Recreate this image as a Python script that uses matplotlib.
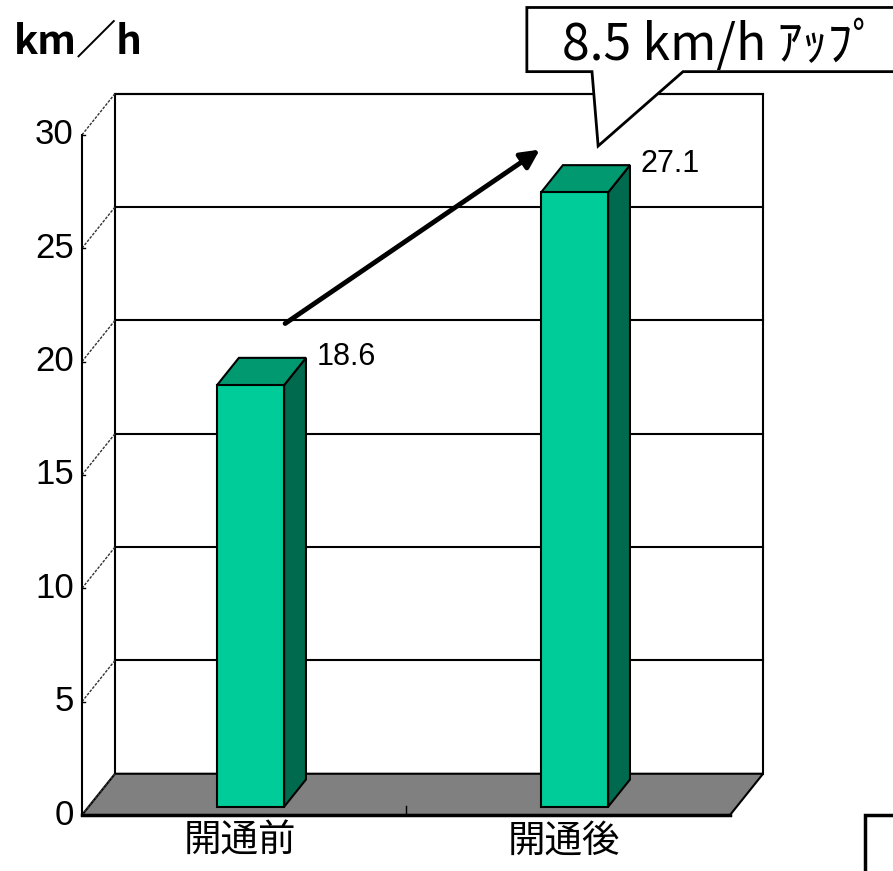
import numpy as np
import matplotlib.pyplot as plt
from matplotlib.patches import Polygon
from matplotlib import font_manager

categories = ['開通前', '開通後']
speeds = [18.6, 27.1]
yticks = [0, 5, 10, 15, 20, 25, 30]
unit_label = 'km／h'

cjk = 'Noto Sans CJK JP'
names = {f.name for f in font_manager.fontManager.ttflist}
narrow = 'Liberation Sans Narrow' if 'Liberation Sans Narrow' in names else 'Liberation Sans'

# depth of the floor / walls in data units (x: category units, y: km/h)
DX, DY = 0.102, 1.82
# bar front and back as fractions of the floor depth
D0, D1 = 0.2, 0.86
BW = 0.207

FRONT = '#00CC99'
TOP = '#009970'
SIDE = '#006A4E'


def proj(x, v, d):
    return (x + d * DX, v + d * DY)


fig = plt.figure(figsize=(8.93, 8.71), dpi=100)
ax = fig.add_axes([0, 0, 1, 1])
ax.set_xlim(-0.753, 2.003)
ax.set_ylim(-2.47, 35.95)
ax.axis('off')

x0, x1 = -0.5, len(categories) - 0.5
top = yticks[-1]

# back wall
ax.add_patch(Polygon([proj(x0, 0, 1), proj(x1, 0, 1), proj(x1, top, 1), proj(x0, top, 1)],
                     closed=True, facecolor='white', edgecolor='black', lw=1.5, zorder=1))
# floor
ax.add_patch(Polygon([proj(x0, 0, 0), proj(x1, 0, 0), proj(x1, 0, 1), proj(x0, 0, 1)],
                     closed=True, facecolor='#808080', edgecolor='black', lw=1.5, zorder=2))
ax.plot(*zip(proj(x0, 0, 0), proj(x1, 0, 0)), color='black', lw=2.5, zorder=3)
ax.plot([0.5, 0.5], [0, 0.4], color='black', lw=1, zorder=3)

# gridlines on back wall and left wall
for t in yticks:
    if t > 0:
        ax.plot(*zip(proj(x0, t, 1), proj(x1, t, 1)), color='black', lw=1.5, zorder=2)
    ax.plot(*zip(proj(x0, t, 0), proj(x0, t, 1)), color='#333333', lw=1, ls=(0, (2, 1)), zorder=2)
    ax.plot([x0, x0 + 0.01], [t, t], color='black', lw=1, zorder=2)
    ax.text(x0 - 0.025, t, str(t), ha='right', va='center', fontsize=25,
            family=narrow, zorder=4)
ax.plot([x0, x0], [0, top], color='black', lw=1.5, zorder=2)

# bars
for i, v in enumerate(speeds):
    l, r = i - BW / 2, i + BW / 2
    front = [proj(l, 0, D0), proj(r, 0, D0), proj(r, v, D0), proj(l, v, D0)]
    side = [proj(r, 0, D0), proj(r, 0, D1), proj(r, v, D1), proj(r, v, D0)]
    cap = [proj(l, v, D0), proj(r, v, D0), proj(r, v, D1), proj(l, v, D1)]
    ax.add_patch(Polygon(side, closed=True, facecolor=SIDE, edgecolor='black', lw=1.5, zorder=5))
    ax.add_patch(Polygon(cap, closed=True, facecolor=TOP, edgecolor='black', lw=1.5, zorder=5))
    ax.add_patch(Polygon(front, closed=True, facecolor=FRONT, edgecolor='black', lw=1.5, zorder=6))
    ax.text(i + 0.225, v + 1.6, f'{v:.1f}', ha='left', va='center', fontsize=22,
            family=narrow, zorder=7)
    ax.text(i - 0.012, -0.3, categories[i], ha='center', va='top', fontsize=27,
            family=[cjk, 'DejaVu Sans'], zorder=7)

# arrow between the two bars
ax.annotate('', xy=(1 - 0.087, speeds[1] + 2.25), xytext=(0.127, speeds[0] + 3.08),
            arrowprops=dict(arrowstyle='-|>', lw=3.5, color='black', mutation_scale=28,
                            shrinkA=0, shrinkB=0), zorder=8)

# callout with the gain
callout = [(0.873, 35.62), (2.05, 35.62), (2.05, 32.79), (1.355, 32.79),
           (1.093, 29.51), (1.074, 32.79), (0.873, 32.79)]
ax.add_patch(Polygon(callout, closed=True, facecolor='white', edgecolor='black', lw=2,
                     zorder=9, clip_on=False))
gain = speeds[1] - speeds[0]
ax.text(0.98, 33.95, f'{gain:.1f} km/h ｱｯﾌﾟ', ha='left', va='center', fontsize=36,
        family=[cjk, 'DejaVu Sans'], zorder=10)

# unit label
ax.text(-0.71, 34.05, unit_label, ha='left', va='center', fontsize=29, fontweight='bold',
        family=[cjk, 'DejaVu Sans'], zorder=10)

# note box at the lower right corner
ax.add_patch(Polygon([(1.916, -2.6), (1.916, -0.01), (2.1, -0.01), (2.1, -2.6)],
                     closed=True, facecolor='white', edgecolor='black', lw=2.5, zorder=9))

fig.savefig('out.png', dpi=100)
